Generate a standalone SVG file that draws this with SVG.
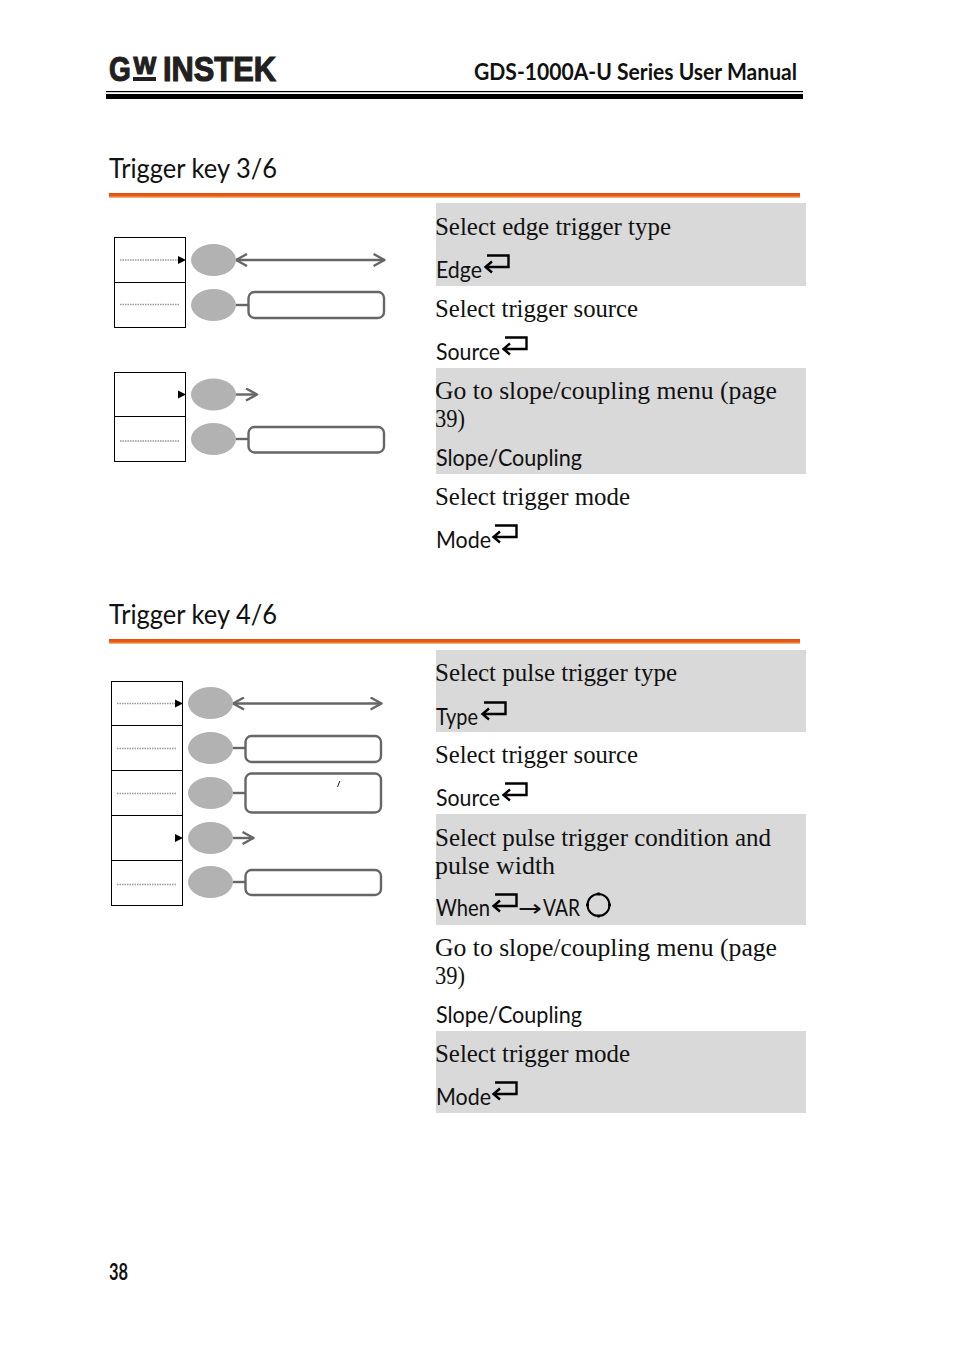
<svg xmlns="http://www.w3.org/2000/svg" width="954" height="1349" viewBox="0 0 954 1349">
<style>
text{fill:#111;white-space:pre}
.s{font-family:"Liberation Serif","DejaVu Serif",serif;font-size:25px}
.n{font-family:"Lato","Open Sans",sans-serif;font-size:23px}
.h{font-family:"Lato","Open Sans",sans-serif;font-size:27px}
.b{font-family:"Lato","Open Sans",sans-serif;font-size:22px;font-weight:700}
.l{font-family:"Liberation Sans",sans-serif;font-size:35px;font-weight:700;fill:#231f20;stroke:#231f20;stroke-width:1.2px}
.band{fill:#d9d9d9}
.rule{fill:url(#o)}
.panel{fill:none;stroke:#000;stroke-width:1}
.dot{stroke:#999;stroke-width:1.4;stroke-dasharray:1.5 1;fill:none}
.key{fill:#b2b2b2}
.cn{fill:none;stroke:#666;stroke-width:2.4}
.box{fill:#fff;stroke:#666;stroke-width:2.4}
.ret{fill:none;stroke:#000;stroke-width:2.4}
</style>
<defs>
<linearGradient id="o" x1="0" y1="0" x2="0" y2="1"><stop offset="0" stop-color="#e04f0c"/><stop offset=".6" stop-color="#e8601a"/><stop offset="1" stop-color="#f8c8a0"/></linearGradient>
<marker id="ch" viewBox="0 0 14 14" refX="12" refY="7" markerWidth="14" markerHeight="14" markerUnits="userSpaceOnUse" orient="auto-start-reverse"><path d="M1 1L12 7L1 13" fill="none" stroke="#666" stroke-width="2.4" stroke-linejoin="round"/></marker>
<path id="r" class="ret" d="M487 255.500H508.500V267H486M492 261.500L485.500 267L492 272.500"/>
<path id="tri" d="M0 -4L8 0L0 4Z" fill="#000"/>
</defs>

<g id="header">
<text class="l" transform="translate(109 81) scale(.8 1)">G</text>
<text class="l" style="font-size:24px" transform="translate(133.500 74)">W</text>
<text class="l" transform="translate(163 81) scale(.88 1)">INSTEK</text>
<rect x="133" y="77" width="23" height="4" fill="#231f20"/>
<text class="b" x="474" y="80" textLength="323" lengthAdjust="spacingAndGlyphs">GDS-1000A-U Series User Manual</text>
<rect x="106" y="91" width="697" height="1.2" fill="#000"/>
<rect x="106" y="94" width="697" height="5" fill="#000"/>
</g>

<g id="section-3-6">
<text class="h" x="109" y="178" textLength="168" lengthAdjust="spacingAndGlyphs">Trigger key 3/6</text>
<rect class="rule" x="109" y="193" width="691" height="5"/>
</g>
<g id="section-4-6">
<text class="h" x="109" y="624" textLength="168" lengthAdjust="spacingAndGlyphs">Trigger key 4/6</text>
<rect class="rule" x="109" y="639" width="691" height="5"/>
</g>

<g id="bands">
<rect class="band" x="436" y="203" width="370" height="83"/>
<rect class="band" x="436" y="368" width="370" height="106"/>
<rect class="band" x="436" y="650" width="370" height="82"/>
<rect class="band" x="436" y="814" width="370" height="111"/>
<rect class="band" x="436" y="1031" width="370" height="82"/>
</g>

<g id="connectors">
<path class="cn" d="M236 260H384.500" marker-start="url(#ch)" marker-end="url(#ch)"/>
<path class="cn" d="M236 305H248"/>
<path class="cn" d="M236 394.500H257" marker-end="url(#ch)"/>
<path class="cn" d="M236 439H248"/>
<path class="cn" d="M233 703.500H381.500" marker-start="url(#ch)" marker-end="url(#ch)"/>
<path class="cn" d="M233 748H245"/>
<path class="cn" d="M233 793H245"/>
<path class="cn" d="M233 838H253.500" marker-end="url(#ch)"/>
<path class="cn" d="M233 882H245"/>
</g>

<g id="panel-a1">
<rect class="panel" x="114.500" y="237.500" width="71" height="90"/>
<path class="panel" d="M114.500 282.500H185.500"/>
<path class="dot" d="M120 260H178M120 304.500H180"/>
<use href="#tri" x="178" y="260"/>
</g>
<g id="panel-a2">
<rect class="panel" x="114.500" y="372.500" width="71" height="89"/>
<path class="panel" d="M114.500 416.500H185.500"/>
<path class="dot" d="M120 441H180"/>
<use href="#tri" x="178" y="394.500"/>
</g>
<g id="panel-b">
<rect class="panel" x="111.500" y="681.500" width="71" height="224"/>
<path class="panel" d="M111.500 725.500H182.500M111.500 770.500H182.500M111.500 815.500H182.500M111.500 860.500H182.500"/>
<path class="dot" d="M117 703.500H175M117 748.500H177M117 793.500H177M117 884.500H177"/>
<use href="#tri" x="175" y="703.500"/>
<use href="#tri" x="175" y="838"/>
</g>

<g id="key-a1"><ellipse class="key" cx="213.500" cy="260" rx="22.500" ry="16"/></g>
<g id="key-a2"><ellipse class="key" cx="213.500" cy="305" rx="22.500" ry="16"/><rect class="box" x="248.500" y="292" width="135.500" height="26" rx="6"/></g>
<g id="key-a3"><ellipse class="key" cx="213.500" cy="394.500" rx="22.500" ry="16"/></g>
<g id="key-a4"><ellipse class="key" cx="213.500" cy="439" rx="22.500" ry="16"/><rect class="box" x="248.500" y="427" width="135.500" height="25.500" rx="6"/></g>
<g id="key-b1"><ellipse class="key" cx="210.500" cy="703" rx="22.500" ry="16"/></g>
<g id="key-b2"><ellipse class="key" cx="210.500" cy="748" rx="22.500" ry="16"/><rect class="box" x="245.500" y="736" width="135.500" height="26" rx="6"/></g>
<g id="key-b3"><ellipse class="key" cx="210.500" cy="793" rx="22.500" ry="16"/><rect class="box" x="245.500" y="773.500" width="135.500" height="39" rx="6"/><path d="M339.800 781L337.500 787" stroke="#222" stroke-width="1" fill="none"/></g>
<g id="key-b4"><ellipse class="key" cx="210.500" cy="838" rx="22.500" ry="16"/></g>
<g id="key-b5"><ellipse class="key" cx="210.500" cy="882" rx="22.500" ry="16"/><rect class="box" x="245.500" y="870" width="135.500" height="25" rx="6"/></g>

<g id="text-a">
<text class="s" x="435" y="235" textLength="236" lengthAdjust="spacingAndGlyphs">Select edge trigger type</text>
<text class="n" x="436" y="278" textLength="46" lengthAdjust="spacingAndGlyphs">Edge</text>
<use href="#r" x="0" y="0"/>
<text class="s" x="435" y="317" textLength="203" lengthAdjust="spacingAndGlyphs">Select trigger source</text>
<text class="n" x="436" y="360" textLength="64" lengthAdjust="spacingAndGlyphs">Source</text>
<use href="#r" x="18" y="82"/>
<text class="s" x="435" y="399" textLength="342" lengthAdjust="spacingAndGlyphs">Go to slope/coupling menu (page</text>
<text class="s" x="435" y="427" textLength="30" lengthAdjust="spacingAndGlyphs">39)</text>
<text class="n" x="436" y="466" textLength="146" lengthAdjust="spacingAndGlyphs">Slope/Coupling</text>
<text class="s" x="435" y="505" textLength="195" lengthAdjust="spacingAndGlyphs">Select trigger mode</text>
<text class="n" x="436" y="548" textLength="55" lengthAdjust="spacingAndGlyphs">Mode</text>
<use href="#r" x="8" y="270"/>
</g>
<g id="text-b">
<text class="s" x="435" y="681" textLength="242" lengthAdjust="spacingAndGlyphs">Select pulse trigger type</text>
<text class="n" x="436" y="725" textLength="42" lengthAdjust="spacingAndGlyphs">Type</text>
<use href="#r" x="-3" y="447"/>
<text class="s" x="435" y="763" textLength="203" lengthAdjust="spacingAndGlyphs">Select trigger source</text>
<text class="n" x="436" y="806" textLength="64" lengthAdjust="spacingAndGlyphs">Source</text>
<use href="#r" x="18" y="528"/>
<text class="s" x="435" y="846" textLength="336" lengthAdjust="spacingAndGlyphs">Select pulse trigger condition and</text>
<text class="s" x="435" y="874" textLength="120" lengthAdjust="spacingAndGlyphs">pulse width</text>
<text class="n" x="436" y="916" textLength="54" lengthAdjust="spacingAndGlyphs">When</text>
<use href="#r" x="8" y="639"/>
<text class="n"><tspan x="518" y="916" style="font-family:'DejaVu Sans',sans-serif" textLength="24" lengthAdjust="spacingAndGlyphs">→</tspan><tspan x="543" y="916" textLength="37" lengthAdjust="spacingAndGlyphs">VAR</tspan></text>
<circle cx="598.500" cy="905" r="11" fill="none" stroke="#000" stroke-width="2"/>
<path d="M598.500 892.500V895.500M598.500 914.500V917.500M586 905H589M608 905H611" stroke="#000" stroke-width="2.500" fill="none"/>
<text class="s" x="435" y="956" textLength="342" lengthAdjust="spacingAndGlyphs">Go to slope/coupling menu (page</text>
<text class="s" x="435" y="984" textLength="30" lengthAdjust="spacingAndGlyphs">39)</text>
<text class="n" x="436" y="1023" textLength="146" lengthAdjust="spacingAndGlyphs">Slope/Coupling</text>
<text class="s" x="435" y="1062" textLength="195" lengthAdjust="spacingAndGlyphs">Select trigger mode</text>
<text class="n" x="436" y="1105" textLength="55" lengthAdjust="spacingAndGlyphs">Mode</text>
<use href="#r" x="8" y="827"/>
</g>
<g id="footer"><text class="b" x="109" y="1280" textLength="19" lengthAdjust="spacingAndGlyphs">38</text></g>
</svg>
